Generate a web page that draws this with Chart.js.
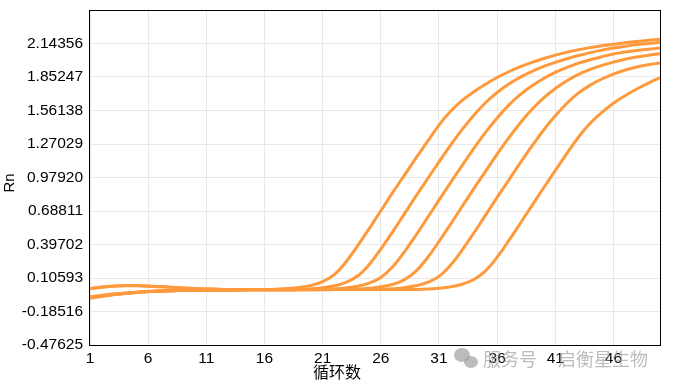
<!DOCTYPE html>
<html>
<head>
<meta charset="utf-8">
<script src="https://cdn.jsdelivr.net/npm/chart.js@4.4.0/dist/chart.umd.min.js"></script>
<style>
  html, body { margin: 0; padding: 0; background: #fff; }
  #wrap { width: 674px; height: 386px; }
</style>
</head>
<body>
<div id="wrap"><canvas id="myChart" width="674" height="386"></canvas></div>
<script>
// cycle numbers (x)
const cycles = [1, 2, 3, 4, 5, 6, 7, 8, 9, 10, 11, 12, 13, 14, 15, 16, 17, 18, 19, 20,
    21, 22, 23, 24, 25, 26, 27, 28, 29, 30, 31, 32, 33, 34, 35, 36, 37, 38, 39, 40,
    41, 42, 43, 44, 45, 46, 47, 48, 49, 50];

// Rn values, one curve per sample
const curve1 = [0.015, 0.028, 0.036, 0.040, 0.040, 0.037, 0.032, 0.026, 0.020, 0.015,
    0.011, 0.008, 0.006, 0.005, 0.005, 0.006, 0.009, 0.014, 0.024, 0.042,
    0.075, 0.135, 0.245, 0.385, 0.535, 0.690, 0.845, 0.995, 1.145, 1.290,
    1.435, 1.555, 1.650, 1.725, 1.790, 1.848, 1.898, 1.942, 1.980, 2.013,
    2.043, 2.068, 2.090, 2.108, 2.124, 2.138, 2.150, 2.161, 2.171, 2.180];
const curve2 = [-0.066, -0.051, -0.038, -0.028, -0.019, -0.012, -0.007, -0.004, -0.002, -0.001,
    0.000, 0.002, 0.002, 0.003, 0.003, 0.004, 0.005, 0.006, 0.008, 0.013,
    0.022, 0.038, 0.068, 0.123, 0.223, 0.357, 0.505, 0.659, 0.814, 0.965,
    1.115, 1.261, 1.398, 1.521, 1.629, 1.718, 1.791, 1.851, 1.901, 1.944,
    1.980, 2.011, 2.039, 2.064, 2.086, 2.104, 2.120, 2.134, 2.144, 2.153];
const curve3 = [-0.058, -0.045, -0.034, -0.025, -0.017, -0.011, -0.007, -0.004, -0.002, -0.001,
    0.000, 0.001, 0.002, 0.003, 0.003, 0.003, 0.004, 0.004, 0.005, 0.006,
    0.008, 0.012, 0.020, 0.035, 0.062, 0.111, 0.201, 0.329, 0.475, 0.628,
    0.783, 0.935, 1.085, 1.232, 1.371, 1.497, 1.608, 1.701, 1.777, 1.840,
    1.892, 1.935, 1.973, 2.002, 2.029, 2.052, 2.069, 2.083, 2.094, 2.104];
const curve4 = [0.012, 0.025, 0.034, 0.038, 0.038, 0.035, 0.030, 0.024, 0.019, 0.014,
    0.010, 0.008, 0.006, 0.005, 0.005, 0.004, 0.004, 0.004, 0.005, 0.005,
    0.005, 0.006, 0.007, 0.010, 0.017, 0.029, 0.050, 0.090, 0.163, 0.280,
    0.423, 0.574, 0.729, 0.883, 1.032, 1.182, 1.324, 1.455, 1.572, 1.672,
    1.752, 1.820, 1.875, 1.918, 1.953, 1.982, 2.006, 2.026, 2.042, 2.055];
const curve5 = [-0.070, -0.054, -0.040, -0.029, -0.020, -0.013, -0.008, -0.004, -0.002, -0.001,
    0.000, 0.001, 0.002, 0.002, 0.003, 0.003, 0.003, 0.004, 0.004, 0.004,
    0.005, 0.005, 0.005, 0.006, 0.007, 0.008, 0.013, 0.022, 0.038, 0.067,
    0.120, 0.218, 0.350, 0.497, 0.652, 0.807, 0.957, 1.108, 1.254, 1.392,
    1.515, 1.624, 1.714, 1.782, 1.835, 1.878, 1.913, 1.940, 1.959, 1.974];
const curve6 = [-0.062, -0.048, -0.036, -0.026, -0.018, -0.012, -0.007, -0.004, -0.002, -0.001,
    0.000, 0.001, 0.002, 0.002, 0.003, 0.003, 0.003, 0.003, 0.004, 0.004,
    0.004, 0.005, 0.005, 0.005, 0.006, 0.006, 0.006, 0.007, 0.007, 0.010,
    0.017, 0.029, 0.052, 0.093, 0.168, 0.287, 0.430, 0.582, 0.737, 0.890,
    1.040, 1.189, 1.331, 1.450, 1.545, 1.625, 1.690, 1.748, 1.800, 1.845];

// axis ticks
const xTicks = [1, 6, 11, 16, 21, 26, 31, 36, 41, 46];
const yTicks = [-0.47625, -0.18516, 0.10593, 0.39702, 0.68811, 0.97920, 1.27029, 1.56138, 1.85247, 2.14356];
const yTickLabels = ['-0.47625', '-0.18516', '0.10593', '0.39702', '0.68811', '0.97920', '1.27029', '1.56138', '1.85247', '2.14356'];

const allCurves = [curve1, curve2, curve3, curve4, curve5, curve6];
const lineColor = '#ff9a3c';
const tickFont = { family: '"Liberation Sans", Arial, sans-serif', size: 15.5 };

let datasets = allCurves.map(function (curve, n) {
    return {
        label: 'S' + (n + 1),
        data: cycles.map(function (c, i) { return { x: c, y: curve[i] }; }),
        borderColor: lineColor,
        borderWidth: 3,
        pointRadius: 0,
        fill: false,
        tension: 0.4,
    };
});

// black frame, axis titles and the watermark
const extras = {
    id: 'extras',
    afterDraw: function (chart) {
        const ctx = chart.ctx;
        const a = chart.chartArea;
        ctx.save();
        ctx.strokeStyle = '#000';
        ctx.lineWidth = 1;
        ctx.strokeRect(a.left - 0.5, a.top + 0.5, a.right - a.left + 1, a.bottom - a.top);

        ctx.fillStyle = '#000';
        ctx.textAlign = 'center';
        ctx.textBaseline = 'middle';
        ctx.font = '16px "Noto Sans CJK SC", sans-serif';
        ctx.fillText('循环数', 337, 372);

        ctx.save();
        ctx.translate(10, 183);
        ctx.rotate(-Math.PI / 2);
        ctx.font = '15px "Liberation Sans", Arial, sans-serif';
        ctx.fillText('Rn', 0, 0);
        ctx.restore();

        // watermark
        ctx.globalAlpha = 0.7;
        ctx.fillStyle = '#a0a0a0';
        ctx.beginPath();
        ctx.ellipse(462, 355, 8, 7, 0, 0, Math.PI * 2);
        ctx.fill();
        ctx.beginPath();
        ctx.ellipse(471, 362, 7, 6, 0, 0, Math.PI * 2);
        ctx.fill();
        ctx.font = '18px "Noto Sans CJK SC", sans-serif';
        ctx.textAlign = 'left';
        ctx.fillText('服务号', 483, 359);
        ctx.fillText('启衡星生物', 558, 359);
        ctx.restore();
    }
};

let ctx = document.getElementById('myChart').getContext('2d');
let myChart = new Chart(ctx, {
    type: 'line',
    data: { datasets: datasets },
    options: {
        responsive: false,
        animation: false,
        events: [],
        layout: {
            padding: { left: 0, right: 14, top: 10, bottom: 0 },
        },
        plugins: {
            legend: { display: false },
            tooltip: { enabled: false },
        },
        scales: {
            x: {
                type: 'linear',
                min: 1,
                max: 50,
                afterFit: function (scale) {
                    scale.height = 41;
                    scale.paddingLeft = 0;
                    scale.paddingRight = 0;
                },
                afterBuildTicks: function (scale) {
                    scale.ticks = xTicks.map(function (v) { return { value: v }; });
                },
                grid: { color: '#e8e8e8', drawTicks: false },
                border: { display: false },
                ticks: {
                    color: '#000',
                    font: tickFont,
                    padding: 4,
                    maxRotation: 0,
                    autoSkip: false,
                    callback: function (v) { return String(v); },
                },
            },
            y: {
                min: -0.47625,
                max: 2.43465,
                afterFit: function (scale) {
                    scale.width = 90;
                    scale.paddingTop = 0;
                    scale.paddingBottom = 0;
                },
                afterBuildTicks: function (scale) {
                    scale.ticks = yTicks.map(function (v) { return { value: v }; });
                },
                grid: { color: '#e8e8e8', drawTicks: false },
                border: { display: false },
                ticks: {
                    color: '#000',
                    font: tickFont,
                    padding: 7,
                    autoSkip: false,
                    callback: function (v, i) { return yTickLabels[i]; },
                },
            },
        },
    },
    plugins: [extras],
});
</script>
</body>
</html>
